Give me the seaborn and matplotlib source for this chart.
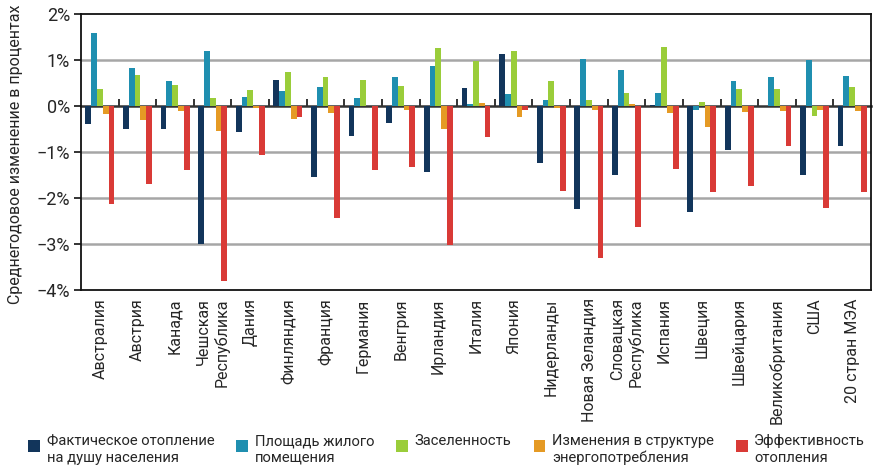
import numpy as np
import pandas as pd
import matplotlib
matplotlib.use("Agg")
import matplotlib.pyplot as plt
import seaborn as sns
from matplotlib.patches import Patch, Rectangle
from matplotlib.legend_handler import HandlerPatch
from matplotlib.ticker import FuncFormatter

countries = ["Австралия", "Австрия", "Канада", "Чешская\nРеспублика", "Дания",
             "Финляндия", "Франция", "Германия", "Венгрия", "Ирландия", "Италия",
             "Япония", "Нидерланды", "Новая Зеландия", "Словацкая\nРеспублика",
             "Испания", "Швеция", "Швейцария", "Великобритания", "США",
             "20 стран МЭА"]

series_names = ["Фактическое отопление\nна душу населения",
                "Площадь жилого\nпомещения",
                "Заселенность",
                "Изменения в структуре\nэнергопотребления",
                "Эффективность\nотопления"]

heating_per_capita = [-0.39, -0.51, -0.50, -3.00, -0.56, 0.56, -1.54, -0.66, -0.38, -1.44, 0.40,
                      1.12, -1.23, -2.25, -1.51, 0.03, -2.31, -0.96, 0.00, -1.51, -0.88]
floor_area = [1.59, 0.82, 0.54, 1.20, 0.20, 0.33, 0.41, 0.18, 0.62, 0.86, 0.04,
              0.26, 0.12, 1.03, 0.78, 0.29, -0.09, 0.55, 0.63, 1.01, 0.66]
occupancy = [0.36, 0.68, 0.46, 0.18, 0.34, 0.73, 0.64, 0.56, 0.43, 1.25, 0.97,
             1.20, 0.55, 0.14, 0.29, 1.28, 0.08, 0.38, 0.36, -0.22, 0.42]
energy_mix = [-0.17, -0.30, -0.11, -0.54, -0.04, -0.28, -0.15, -0.01, -0.09, -0.49, 0.07,
              -0.24, -0.04, -0.09, 0.05, -0.15, -0.46, -0.12, -0.11, -0.09, -0.11]
efficiency = [-2.14, -1.70, -1.39, -3.81, -1.07, -0.23, -2.43, -1.40, -1.33, -3.02, -0.68,
              -0.09, -1.85, -3.30, -2.62, -1.37, -1.86, -1.75, -0.88, -2.21, -1.86]

colors = ["#12355b", "#1f8fb0", "#9acd3a", "#e59a24", "#d93a36"]
y_ticks = [2, 1, 0, -1, -2, -3, -4]

series_values = [heating_per_capita, floor_area, occupancy, energy_mix, efficiency]
df = pd.DataFrame({
    "country": np.repeat([countries], len(series_names), axis=0).ravel(),
    "series": np.repeat(series_names, len(countries)),
    "value": np.concatenate(series_values),
})

sns.set_theme(style="white")
plt.rcParams["font.family"] = ["Roboto", "DejaVu Sans"]
plt.rcParams["axes.unicode_minus"] = True

fig = plt.figure(figsize=(8.73, 4.76), dpi=100)
ax = fig.add_axes([0.0928, 0.3908, 0.9049, 0.5798])

sns.barplot(data=df, x="country", y="value", hue="series", hue_order=series_names,
            order=countries, palette=colors, width=0.77, gap=0.0, ax=ax,
            legend=False, saturation=1, errorbar=None, zorder=3, linewidth=0)

ax.set_ylim(-4, 2)
ax.set_xlim(-0.5, len(countries) - 0.5)
ax.set_yticks(y_ticks)
ax.yaxis.set_major_formatter(FuncFormatter(lambda v, p: f"{int(v)}%".replace("-", "\u2212")))
for v in [1, -1, -2, -3]:
    ax.axhline(v, color="#a6a6a6", lw=1.8, zorder=1)

for s in ax.spines.values():
    s.set_color("#111111")
    s.set_linewidth(1.3)
    s.set_visible(True)

ax.tick_params(axis="y", direction="out", length=5, width=1.2, color="#111111",
               labelsize=13, pad=3, left=True)
ax.tick_params(axis="x", length=0, labelsize=11.5, pad=6, rotation=90)
for lab in ax.get_xticklabels():
    lab.set_horizontalalignment("center")
    lab.set_verticalalignment("top")
    lab.set_multialignment("right")
ax.set_xlabel("")
ax.set_ylabel("Среднегодовое изменение в процентах", fontsize=11.5)
ax.yaxis.set_label_coords(-0.074, 0.49)

# zero line with group separators
sec = ax.secondary_xaxis(4 / 6)
sep = np.arange(0.5, len(countries) - 0.5, 1.0)
sec.set_xticks(sep, labels=[""] * len(sep))
sec.tick_params(direction="out", length=5, width=1.2, color="#111111")
sec.spines["bottom"].set_color("#333333")
sec.spines["bottom"].set_linewidth(1.8)
sec.spines["top"].set_color("#333333")
sec.spines["top"].set_linewidth(1.8)


def top_square(legend, orig_handle, xdescent, ydescent, width, height, fontsize):
    sq = 8.5
    return Rectangle((-xdescent, -ydescent + height - sq - 1.0), sq, sq)


legend_labels = [s if "\n" in s else s + "\n" for s in series_names]
handles = [Patch(facecolor=c, edgecolor="none") for c in colors]
fig.legend(handles, legend_labels, loc="lower left", ncol=5, frameon=False,
           bbox_to_anchor=(0.024, 0.008), borderpad=0, fontsize=10.6,
           handlelength=0.8, handleheight=2.0,
           handletextpad=0.45, columnspacing=1.5,
           handler_map={Patch: HandlerPatch(patch_func=top_square)})

fig.savefig("out.png", dpi=100)
